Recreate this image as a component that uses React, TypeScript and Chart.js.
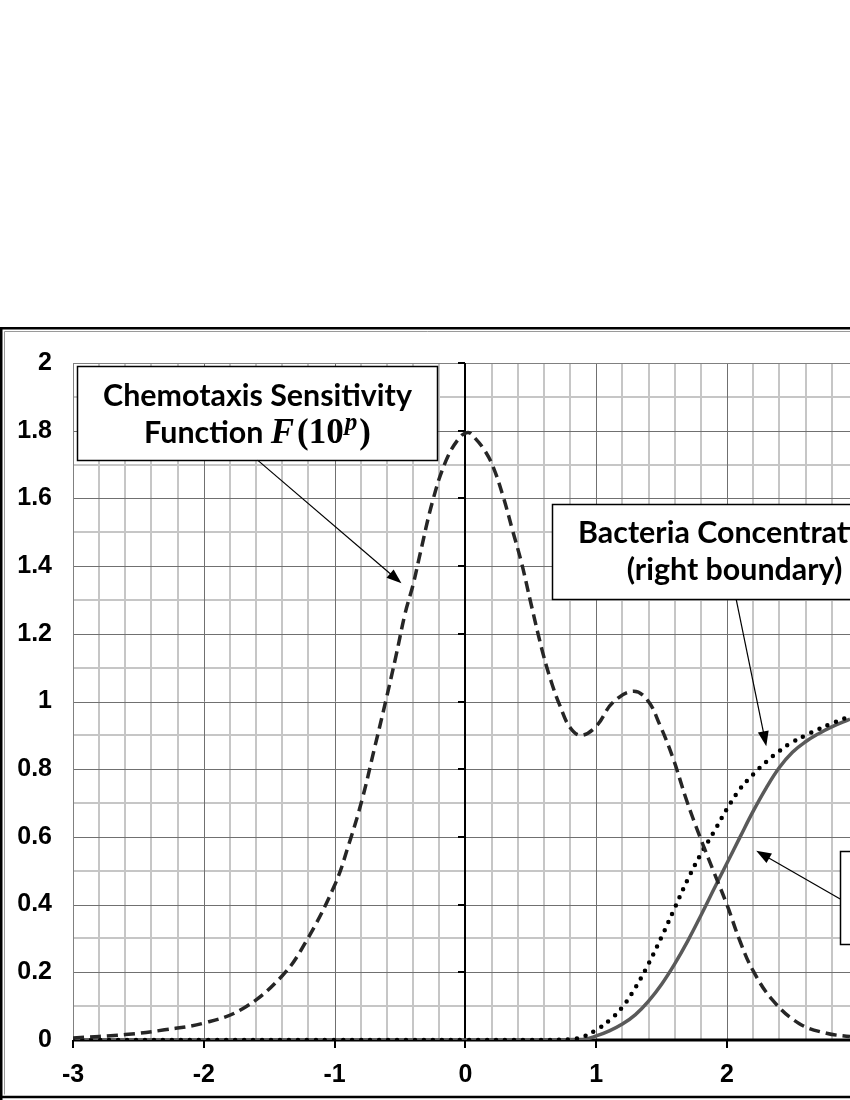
import React, { useEffect, useRef } from 'react';
import { Chart, registerables } from 'chart.js';

Chart.register(...registerables);

// ---- data ----
const sensX = [-3, -2.6, -2.3, -2.0, -1.7, -1.4, -1.22, -1.0, -0.89, -0.79, -0.7, -0.61, -0.53, -0.46, -0.4, -0.35, -0.25, -0.15, -0.05, 0.02, 0.08, 0.15, 0.21, 0.285, 0.36, 0.43, 0.5, 0.59, 0.655, 0.72, 0.8, 0.885, 1.0, 1.125, 1.28, 1.39, 1.485, 1.585, 1.69, 1.79, 1.89, 2.0, 2.1, 2.2, 2.35, 2.55, 2.76, 2.94];
const sensY = [0.006, 0.016, 0.03, 0.05, 0.093, 0.19, 0.29, 0.457, 0.58, 0.71, 0.854, 1.0, 1.136, 1.262, 1.345, 1.43, 1.593, 1.71, 1.777, 1.795, 1.775, 1.74, 1.695, 1.61, 1.506, 1.408, 1.291, 1.146, 1.06, 0.99, 0.923, 0.9, 0.927, 0.996, 1.03, 1.005, 0.932, 0.835, 0.709, 0.603, 0.505, 0.399, 0.291, 0.204, 0.117, 0.049, 0.02, 0.01];

const rightX = [-3, -2, -1, 0, 0.5, 0.8, 0.9, 1.0, 1.1, 1.2, 1.3, 1.4, 1.5, 1.6, 1.7, 1.8, 1.9, 2.0, 2.1, 2.2, 2.3, 2.4, 2.5, 2.6, 2.7, 2.8, 2.94];
const rightY = [0, 0, 0, 0, 0, 0.002, 0.01, 0.03, 0.058, 0.097, 0.155, 0.225, 0.305, 0.39, 0.475, 0.55, 0.615, 0.683, 0.742, 0.785, 0.822, 0.854, 0.88, 0.9, 0.918, 0.935, 0.956];

const otherX = [-3, -2, -1, 0, 0.5, 0.9, 1.0, 1.1, 1.2, 1.3, 1.4, 1.5, 1.6, 1.7, 1.8, 1.9, 2.0, 2.1, 2.2, 2.3, 2.4, 2.5, 2.6, 2.7, 2.8, 2.94];
const otherY = [0, 0, 0, 0, 0, 0.002, 0.012, 0.027, 0.047, 0.075, 0.115, 0.165, 0.225, 0.293, 0.368, 0.446, 0.523, 0.6, 0.676, 0.745, 0.805, 0.85, 0.881, 0.905, 0.925, 0.948];

const xTicks = [-3, -2, -1, 0, 1, 2];
const xTickLabels = ['-3', '-2', '-1', '0', '1', '2'];
const yTicks = [0, 0.2, 0.4, 0.6, 0.8, 1, 1.2, 1.4, 1.6, 1.8, 2];
const yTickLabels = ['0', '0.2', '0.4', '0.6', '0.8', '1', '1.2', '1.4', '1.6', '1.8', '2'];

const X_MIN = -3;
const X_MAX = 2.94;
const Y_MIN = 0;
const Y_MAX = 2;

const chemoLine1 = 'Chemotaxis Sensitivity';
const chemoLine2 = 'Function ';
const bactLine1 = 'Bacteria Concentration';
const bactLine2 = '(right boundary)';

// annotation geometry in data units
const box1 = { x1: -2.972, x2: -0.214, y1: 1.992, y2: 1.713 };
const arrow1 = { x1: -1.589, y1: 1.713, x2: -0.489, y2: 1.349 };
const box2 = { x1: 0.665, x2: 3.445, y1: 1.582, y2: 1.302 };
const arrow2 = { x1: 2.07, y1: 1.302, x2: 2.3, y2: 0.868 };
const box3 = { x1: 2.865, x2: 5.0, y1: 0.559, y2: 0.283 };
const arrow3 = { x1: 2.865, y1: 0.4165, x2: 2.223, y2: 0.559 };

const TEXT_FONT = 'Lato, "Open Sans", sans-serif';
const MATH_FONT = '"Liberation Serif", "DejaVu Serif", serif';
const TICK_FONT = '"Liberation Sans", Arial, sans-serif';

function drawArrow(ctx: CanvasRenderingContext2D, x1: number, y1: number, x2: number, y2: number) {
  const ang = Math.atan2(y2 - y1, x2 - x1);
  const L = 15;
  const W = 5.5;
  const c = Math.cos(ang);
  const s = Math.sin(ang);
  ctx.strokeStyle = '#000';
  ctx.fillStyle = '#000';
  ctx.lineWidth = 1.2;
  ctx.beginPath();
  ctx.moveTo(x1, y1);
  ctx.lineTo(x2 - L * 0.8 * c, y2 - L * 0.8 * s);
  ctx.stroke();
  ctx.beginPath();
  ctx.moveTo(x2, y2);
  ctx.lineTo(x2 - L * c + W * s, y2 - L * s - W * c);
  ctx.lineTo(x2 - L * c - W * s, y2 - L * s + W * c);
  ctx.closePath();
  ctx.fill();
}

const gridPlugin = {
  id: 'excelGrid',
  beforeDatasetsDraw(chart: any) {
    const { ctx, chartArea: a, scales } = chart;
    const x = scales.x;
    const y = scales.y;
    ctx.save();
    // minor grid
    ctx.strokeStyle = '#c6c6c6';
    ctx.lineWidth = 2;
    for (let i = 0; ; i++) {
      const v = X_MIN + i * 0.2;
      if (v > X_MAX + 1e-9) break;
      if (Math.abs(v - Math.round(v)) < 1e-6) continue;
      const px = Math.round(x.getPixelForValue(v));
      ctx.beginPath();
      ctx.moveTo(px, a.top);
      ctx.lineTo(px, a.bottom);
      ctx.stroke();
    }
    for (let i = 0; i <= 20; i++) {
      const v = Y_MIN + i * 0.1;
      if (i % 2 === 0) continue;
      const py = Math.round(y.getPixelForValue(v));
      ctx.beginPath();
      ctx.moveTo(a.left, py);
      ctx.lineTo(a.right, py);
      ctx.stroke();
    }
    // major grid
    ctx.strokeStyle = '#707070';
    ctx.lineWidth = 1;
    for (const v of xTicks) {
      const px = Math.round(x.getPixelForValue(v)) + 0.5;
      ctx.beginPath();
      ctx.moveTo(px, a.top);
      ctx.lineTo(px, a.bottom);
      ctx.stroke();
    }
    for (const v of yTicks) {
      const py = Math.round(y.getPixelForValue(v)) + 0.5;
      ctx.beginPath();
      ctx.moveTo(a.left, py);
      ctx.lineTo(a.right, py);
      ctx.stroke();
    }
    // plot area border
    ctx.strokeStyle = '#808080';
    ctx.lineWidth = 1;
    ctx.strokeRect(Math.round(a.left) + 0.5, Math.round(a.top) + 0.5, a.right - a.left + 5, a.bottom - a.top);

    // y axis at x = 0
    const x0 = Math.round(x.getPixelForValue(0));
    const y0 = Math.round(y.getPixelForValue(0));
    ctx.strokeStyle = '#000';
    ctx.lineWidth = 2;
    ctx.beginPath();
    ctx.moveTo(x0, a.top);
    ctx.lineTo(x0, a.bottom);
    ctx.stroke();
    for (const v of yTicks) {
      const py = Math.round(y.getPixelForValue(v));
      ctx.beginPath();
      ctx.moveTo(x0 - 7, py);
      ctx.lineTo(x0, py);
      ctx.stroke();
    }
    // x axis at y = 0
    ctx.lineWidth = 3;
    ctx.beginPath();
    ctx.moveTo(a.left, y0);
    ctx.lineTo(a.right, y0);
    ctx.stroke();
    ctx.lineWidth = 2;
    for (const v of xTicks) {
      const px = Math.round(x.getPixelForValue(v));
      ctx.beginPath();
      ctx.moveTo(px, y0);
      ctx.lineTo(px, y0 + 8);
      ctx.stroke();
    }
    ctx.restore();
  },
};

const annotationPlugin = {
  id: 'annotations',
  afterDatasetsDraw(chart: any) {
    const { ctx, scales } = chart;
    const x = scales.x;
    const y = scales.y;
    const X = (v: number) => x.getPixelForValue(v);
    const Y = (v: number) => y.getPixelForValue(v);
    ctx.save();

    // font size fitted to the first label width
    ctx.font = `bold 100px ${TEXT_FONT}`;
    const w100 = ctx.measureText(chemoLine1).width;
    const size = (100 * 309) / w100;
    const font = `bold ${size.toFixed(2)}px ${TEXT_FONT}`;

    const drawBox = (b: any) => {
      const l = Math.round(X(b.x1)) + 0.5;
      const t = Math.round(Y(b.y1)) + 0.5;
      const r = Math.round(X(b.x2)) + 0.5;
      const bt = Math.round(Y(b.y2)) + 0.5;
      ctx.fillStyle = '#fff';
      ctx.fillRect(l, t, r - l, bt - t);
      ctx.strokeStyle = '#000';
      ctx.lineWidth = 1.5;
      ctx.strokeRect(l, t, r - l, bt - t);
      return { l, t, r, bt, cx: (l + r) / 2 };
    };

    // box 1
    const b1 = drawBox(box1);
    ctx.fillStyle = '#000';
    ctx.textBaseline = 'alphabetic';
    ctx.textAlign = 'left';
    ctx.font = font;
    const w1 = ctx.measureText(chemoLine1).width;
    ctx.fillText(chemoLine1, b1.cx - w1 / 2, b1.t + 39);
    // second line with math
    const mSize = size * 1.15;
    const parts: { t: string; f: string; dy: number; gap: number }[] = [
      { t: chemoLine2, f: font, dy: 0, gap: 0 },
      { t: 'F', f: `italic bold ${mSize.toFixed(2)}px ${MATH_FONT}`, dy: 0, gap: 3 },
      { t: '(10', f: `bold ${mSize.toFixed(2)}px ${MATH_FONT}`, dy: 0, gap: 1 },
      { t: 'p', f: `italic bold ${(mSize * 0.72).toFixed(2)}px ${MATH_FONT}`, dy: -size * 0.42, gap: 2 },
      { t: ')', f: `bold ${mSize.toFixed(2)}px ${MATH_FONT}`, dy: 0, gap: 0 },
    ];
    let total = 0;
    const widths = parts.map((p) => {
      ctx.font = p.f;
      const w = ctx.measureText(p.t).width + p.gap;
      total += w;
      return w;
    });
    let cx = b1.cx - total / 2;
    parts.forEach((p, i) => {
      ctx.font = p.f;
      ctx.fillText(p.t, cx, b1.t + 76 + p.dy);
      cx += widths[i];
    });

    // box 2
    const b2 = drawBox(box2);
    ctx.fillStyle = '#000';
    ctx.font = font;
    ctx.textAlign = 'center';
    ctx.fillText(bactLine1, b2.cx, b2.t + 38);
    ctx.fillText(bactLine2, b2.cx, b2.t + 75);

    // box 3 (its text lies outside the visible area)
    drawBox(box3);

    drawArrow(ctx, X(arrow1.x1), Y(arrow1.y1), X(arrow1.x2), Y(arrow1.y2));
    drawArrow(ctx, X(arrow2.x1), Y(arrow2.y1), X(arrow2.x2), Y(arrow2.y2));
    drawArrow(ctx, X(arrow3.x1), Y(arrow3.y1), X(arrow3.x2), Y(arrow3.y2));
    ctx.restore();
  },
  afterDraw(chart: any) {
    const { ctx, width, height } = chart;
    ctx.save();
    ctx.strokeStyle = '#000';
    ctx.lineWidth = 2.5;
    ctx.beginPath();
    ctx.moveTo(1.25, height + 5);
    ctx.lineTo(1.25, 1.25);
    ctx.lineTo(width + 5, 1.25);
    ctx.moveTo(1.25, height - 3);
    ctx.lineTo(width + 5, height - 3);
    ctx.stroke();
    ctx.strokeStyle = '#9a9a9a';
    ctx.lineWidth = 1;
    ctx.beginPath();
    ctx.moveTo(4.5, height - 5.5);
    ctx.lineTo(4.5, 4.5);
    ctx.lineTo(width + 5, 4.5);
    ctx.stroke();
    ctx.restore();
  },
};

export default function App() {
  const canvasRef = useRef<HTMLCanvasElement | null>(null);

  useEffect(() => {
    const canvas = canvasRef.current;
    if (!canvas) return;
    const chart = new Chart(canvas, {
      type: 'line',
      data: {
        datasets: [
          {
            label: 'Chemotaxis Sensitivity Function',
            data: sensX.map((v, i) => ({ x: v, y: sensY[i] })),
            borderColor: '#262626',
            borderWidth: 3.5,
            borderDash: [11, 6],
            pointRadius: 0,
            tension: 0.4,
            fill: false,
          },
          {
            label: 'Bacteria Concentration (right boundary)',
            data: rightX.map((v, i) => ({ x: v, y: rightY[i] })),
            borderColor: '#000',
            borderWidth: 4.5,
            borderDash: [0, 9],
            borderCapStyle: 'round',
            pointRadius: 0,
            tension: 0.4,
            fill: false,
          },
          {
            label: 'Bacteria Concentration',
            data: otherX.map((v, i) => ({ x: v, y: otherY[i] })),
            borderColor: '#5a5a5a',
            borderWidth: 3.5,
            pointRadius: 0,
            tension: 0.4,
            fill: false,
          },
        ],
      },
      options: {
        animation: false,
        responsive: false,
        maintainAspectRatio: false,
        layout: { padding: { top: 26, left: 0, right: 0, bottom: 0 } },
        plugins: {
          legend: { display: false },
          tooltip: { enabled: false },
          title: { display: false },
        },
        scales: {
          x: {
            type: 'linear',
            min: X_MIN,
            max: X_MAX,
            grid: { display: false, drawTicks: false },
            border: { display: false },
            afterBuildTicks: (s: any) => {
              s.ticks = xTicks.map((v) => ({ value: v }));
            },
            afterFit: (s: any) => {
              s.height = 60;
            },
            ticks: {
              autoSkip: false,
              maxRotation: 0,
              padding: 20,
              color: '#000',
              font: { family: TICK_FONT, size: 25, weight: 'bold' },
              callback: (v: any) => {
                const i = xTicks.indexOf(Number(v));
                return i >= 0 ? xTickLabels[i] : '';
              },
            },
          },
          y: {
            type: 'linear',
            min: Y_MIN,
            max: Y_MAX,
            grid: { display: false, drawTicks: false },
            border: { display: false },
            afterBuildTicks: (s: any) => {
              s.ticks = yTicks.map((v) => ({ value: v }));
            },
            afterFit: (s: any) => {
              s.width = 73;
            },
            ticks: {
              autoSkip: false,
              padding: 21,
              color: '#000',
              font: { family: TICK_FONT, size: 25, weight: 'bold' },
              callback: (v: any) => {
                const i = yTicks.findIndex((t) => Math.abs(t - Number(v)) < 1e-9);
                return i >= 0 ? yTickLabels[i] : '';
              },
            },
          },
        },
      } as any,
      plugins: [gridPlugin, annotationPlugin],
    });
    return () => chart.destroy();
  }, []);

  return (
    <div
      style={{
        position: 'absolute',
        left: 0,
        top: 327,
        width: 850,
        height: 773,
        overflow: 'hidden',
        background: '#fff',
      }}
    >
      <canvas ref={canvasRef} width={850} height={773} style={{ display: 'block' }} />
    </div>
  );
}
